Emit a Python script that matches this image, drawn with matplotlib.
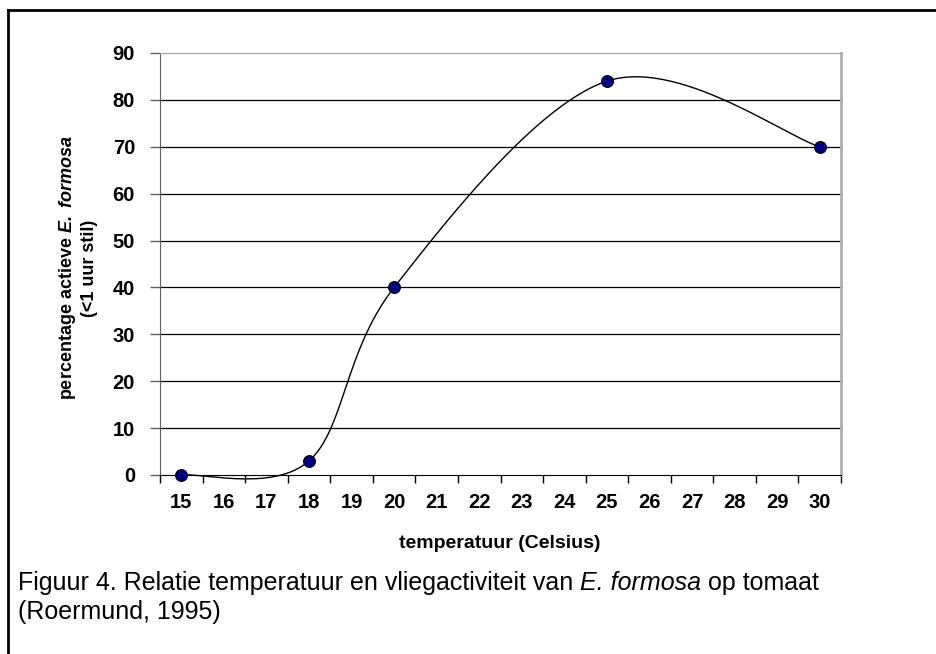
import numpy as np
import matplotlib
matplotlib.use('Agg')
from matplotlib import pyplot as plt
from matplotlib.lines import Line2D

temps = [15, 18, 20, 25, 30]
active = [0, 3, 40, 84, 70]
tick_labels = [str(t) for t in range(15, 31)]
y_ticks = list(range(0, 100, 10))


def excel_smooth(x, y, n=60):
    # Catmull-Rom style bezier through the points (like Excel's smoothed line)
    x = np.asarray(x, float)
    y = np.asarray(y, float)
    px = np.concatenate([[x[0]], x, [x[-1]]])
    py = np.concatenate([[y[0]], y, [y[-1]]])
    xs, ys = [], []
    t = np.linspace(0, 1, n)
    for i in range(1, len(px) - 2):
        p0 = np.array([px[i], py[i]])
        p3 = np.array([px[i + 1], py[i + 1]])
        c1 = p0 + (np.array([px[i + 1], py[i + 1]]) - np.array([px[i - 1], py[i - 1]])) / 6
        c2 = p3 - (np.array([px[i + 2], py[i + 2]]) - np.array([px[i], py[i]])) / 6
        b = ((1 - t) ** 3)[:, None] * p0 + (3 * (1 - t) ** 2 * t)[:, None] * c1 \
            + (3 * (1 - t) * t ** 2)[:, None] * c2 + (t ** 3)[:, None] * p3
        xs.extend(b[:, 0])
        ys.extend(b[:, 1])
    return np.array(xs), np.array(ys)


plt.rcParams['font.family'] = ['Liberation Sans', 'DejaVu Sans']
plt.rcParams['mathtext.fontset'] = 'custom'
plt.rcParams['mathtext.bfit'] = 'Liberation Sans:bold:italic'
plt.rcParams['mathtext.it'] = 'Liberation Sans:italic'
plt.rcParams['mathtext.rm'] = 'Liberation Sans'

fig = plt.figure(figsize=(9.36, 6.54), dpi=100)
ax = fig.add_axes([160 / 936, 1 - 475 / 654, 681 / 936, 422 / 654])

for v in y_ticks[1:-1]:
    ax.axhline(v, color='black', lw=0.9, zorder=1)

sx, sy = excel_smooth(temps, active)
ax.plot(sx, sy, color='black', lw=1.0, zorder=2, clip_on=False)
ax.plot(temps, active, 'o', ms=8.5, mfc='#000080', mec='black', mew=0.8, zorder=3, clip_on=False)

ax.set_xlim(14.5, 30.5)
ax.set_ylim(0, 90)
ax.set_xticks(np.arange(14.5, 31, 1))
ax.set_xticklabels([])
ax.set_xticks(range(15, 31), minor=True)
ax.set_xticklabels(tick_labels, minor=True, fontsize=14.5, fontweight='bold')
ax.tick_params(axis='x', which='major', direction='out', length=6, width=1, color='black')
ax.tick_params(axis='x', which='minor', length=0, pad=13)
ax.set_yticks(y_ticks)
ax.set_yticklabels([str(v) for v in y_ticks], fontsize=14.5, fontweight='bold')
ax.tick_params(axis='y', direction='out', length=7, width=1, color='#606060', pad=11)

ax.spines['left'].set_color('#606060')
ax.spines['bottom'].set_color('black')
ax.spines['top'].set_color('#a0a0a0')
ax.spines['right'].set_color('#b0b0b0')
ax.spines['right'].set_linewidth(2)

fig.text(500 / 936, 1 - 543 / 654, 'temperatuur (Celsius)', ha='center', va='center',
         fontsize=14, fontweight='bold')
fig.text(68 / 936, 1 - 268 / 654, r'percentage actieve $\mathbfit{E.\ formosa}$',
         rotation=90, ha='center', va='center', fontsize=13, fontweight='bold')
fig.text(90 / 936, 1 - 268 / 654, '(<1 uur stil)',
         rotation=90, ha='center', va='center', fontsize=13, fontweight='bold')

# caption, built from pieces so the species name can be italic
cap_size = 18
renderer = fig.canvas.get_renderer()
x0 = 18 / 936
y1 = 1 - 583 / 654
pieces = [('Figuur 4. Relatie temperatuur en vliegactiviteit van ', 'normal'),
          ('E. formosa', 'italic'),
          (' op tomaat', 'normal')]
for txt, style in pieces:
    t = fig.text(x0, y1, txt, fontsize=cap_size, style=style, va='center')
    w = t.get_window_extent(renderer).width
    x0 += w / fig.bbox.width
fig.text(18 / 936, 1 - 612 / 654, '(Roermund, 1995)', fontsize=cap_size, va='center')

# outer frame (top and left only)
fig.add_artist(Line2D([8 / 936, 8 / 936], [0, 1 - 10 / 654], transform=fig.transFigure, color='black', lw=2))
fig.add_artist(Line2D([8 / 936, 1], [1 - 10 / 654, 1 - 10 / 654], transform=fig.transFigure, color='black', lw=2))

fig.savefig('out.png', dpi=100)
